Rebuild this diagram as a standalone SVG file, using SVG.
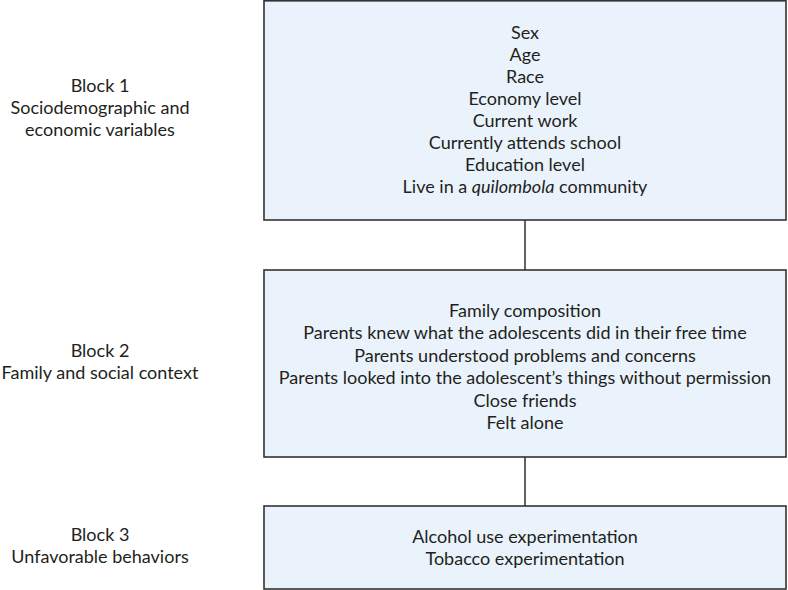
<svg xmlns="http://www.w3.org/2000/svg" width="788" height="590" viewBox="0 0 788 590">
<style>
.box{fill:#EAF3FC;stroke:#333;stroke-width:1.6}
.t{font-family:Lato,"Open Sans",sans-serif;font-size:18px;fill:#231f20;text-anchor:middle}
.c{stroke:#222;stroke-width:1.4;fill:none}
</style>
<rect width="788" height="590" fill="#fff"/>
<g id="connectors">
<line class="c" x1="525" y1="220" x2="525" y2="270"/>
<line class="c" x1="525" y1="457" x2="525" y2="506"/>
</g>
<g id="label1">
<text class="t" x="100" y="92">Block 1</text>
<text class="t" x="100" y="114">Sociodemographic and</text>
<text class="t" x="100" y="136">economic variables</text>
</g>
<g id="label2">
<text class="t" x="100" y="357">Block 2</text>
<text class="t" x="100" y="379">Family and social context</text>
</g>
<g id="label3">
<text class="t" x="100" y="541">Block 3</text>
<text class="t" x="100" y="563">Unfavorable behaviors</text>
</g>
<g id="block1">
<rect class="box" x="264" y="0.8" width="522" height="219.2"/>
<text class="t" x="525" y="38.5">Sex</text>
<text class="t" x="525" y="60.5">Age</text>
<text class="t" x="525" y="82.5">Race</text>
<text class="t" x="525" y="104.5">Economy level</text>
<text class="t" x="525" y="126.5">Current work</text>
<text class="t" x="525" y="148.5">Currently attends school</text>
<text class="t" x="525" y="170.5">Education level</text>
<text class="t" x="525" y="192.5">Live in a <tspan font-style="italic">quilombola</tspan> community</text>
</g>
<g id="block2">
<rect class="box" x="264" y="270" width="522" height="187"/>
<text class="t" x="525" y="316.5">Family composition</text>
<text class="t" x="525" y="339">Parents knew what the adolescents did in their free time</text>
<text class="t" x="525" y="361.5">Parents understood problems and concerns</text>
<text class="t" x="525" y="384">Parents looked into the adolescent’s things without permission</text>
<text class="t" x="525" y="406.5">Close friends</text>
<text class="t" x="525" y="429">Felt alone</text>
</g>
<g id="block3">
<rect class="box" x="264" y="506" width="522" height="83"/>
<text class="t" x="525" y="543">Alcohol use experimentation</text>
<text class="t" x="525" y="565">Tobacco experimentation</text>
</g>
</svg>
